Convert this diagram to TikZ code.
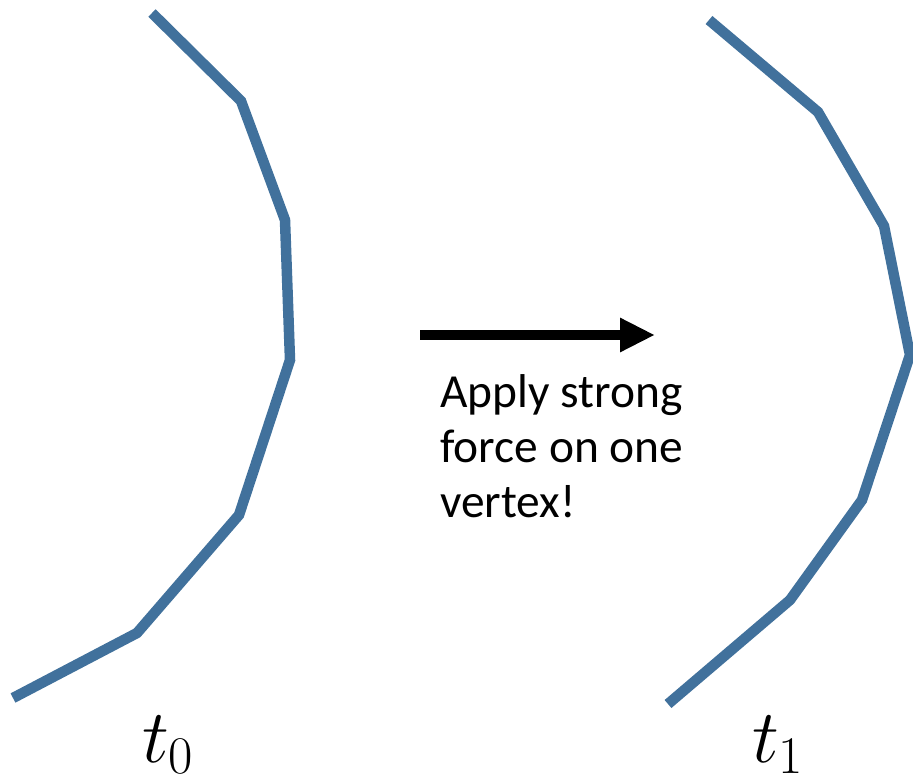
\RequirePackage{fix-cm}
\documentclass[tikz,border=0pt]{standalone}
\usepackage{fontspec}
\setmainfont{Carlito}
\usepackage{tikz}
\usetikzlibrary{arrows.meta}
\definecolor{curveblue}{RGB}{65,113,156}
\tikzset{
  curve/.style={draw=curveblue,line width=0.21cm,line join=miter},
  push/.style={draw=black,line width=0.21cm,-{Triangle[length=7mm,width=6.4mm]}},
  note/.style={anchor=north west,inner sep=0pt,align=left,font=\fontsize{27}{31.3}\selectfont},
  tlabel/.style={inner sep=0pt,font=\fontsize{43}{50}\selectfont},
}
\begin{document}
\begin{tikzpicture}[x=0.02cm,y=-0.02cm]
  \useasboundingbox (0,0) rectangle (913,784);
  % shape at t0
  \coordinate (p1) at (152,13);
  \coordinate (p2) at (241,101);
  \coordinate (p3) at (285,220);
  \coordinate (p4) at (290,360);
  \coordinate (p5) at (239,515);
  \coordinate (p6) at (137,633);
  \coordinate (p7) at (13,698);
  \draw[curve] (p1)--(p2)--(p3)--(p4)--(p5)--(p6)--(p7);
  % shape at t1
  \coordinate (q1) at (709,20);
  \coordinate (q2) at (818,112);
  \coordinate (q3) at (884,226);
  \coordinate (q4) at (910,355);
  \coordinate (q5) at (862,500);
  \coordinate (q6) at (790,600);
  \coordinate (q7) at (668,704);
  \draw[curve] (q1)--(q2)--(q3)--(q4)--(q5)--(q6)--(q7);
  % force arrow
  \coordinate (a0) at (420,335);
  \coordinate (a1) at (655,335);
  \draw[push] (a0)--(a1);
  \node[note] (txt) at (440,374){Apply strong\\force on one\\vertex!};
  \node[tlabel] (t0) at (168,745){$t_0$};
  \node[tlabel] (t1) at (778,745){$t_1$};
\end{tikzpicture}
\end{document}
